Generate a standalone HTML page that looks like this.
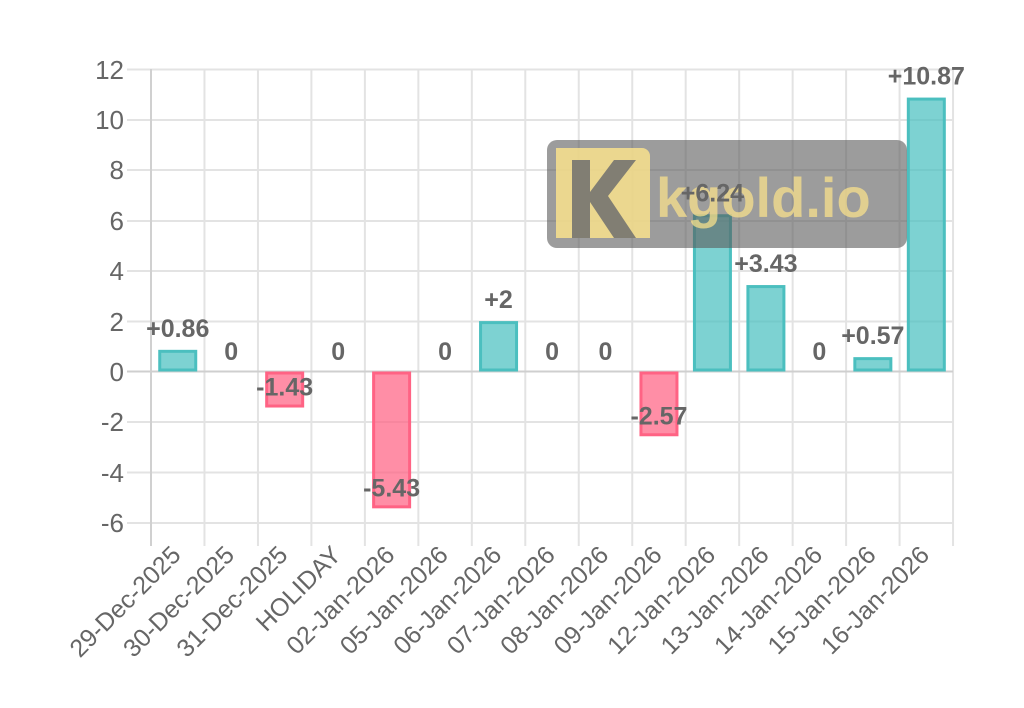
<!DOCTYPE html>
<html><head><meta charset="utf-8"><style>html,body{margin:0;padding:0;background:#fff}svg{display:block}</style></head>
<body>
<svg width="1024" height="708" xmlns="http://www.w3.org/2000/svg" font-family="Liberation Sans, sans-serif">
<g stroke="#e3e3e3" stroke-width="2">
<line x1="127" y1="69.5" x2="953" y2="69.5"/><line x1="127" y1="120" x2="953" y2="120"/><line x1="127" y1="170" x2="953" y2="170"/><line x1="127" y1="221" x2="953" y2="221"/><line x1="127" y1="271" x2="953" y2="271"/><line x1="127" y1="321.5" x2="953" y2="321.5"/><line x1="127" y1="422" x2="953" y2="422"/><line x1="127" y1="472.5" x2="953" y2="472.5"/><line x1="127" y1="523" x2="953" y2="523"/>
</g>
<g stroke="#e3e3e3" stroke-width="2" id="vg"></g>
<line x1="127" y1="371.5" x2="953" y2="371.5" stroke="#cfcfcf" stroke-width="2"/>
<line x1="151" y1="69" x2="151" y2="546" stroke="#d0d0d0" stroke-width="2"/>
<g font-size="26" fill="#666" text-anchor="end">
<text x="124" y="79">12</text><text x="124" y="129">10</text><text x="124" y="179">8</text><text x="124" y="230">6</text><text x="124" y="280">4</text><text x="124" y="331">2</text><text x="124" y="381">0</text><text x="124" y="431">-2</text><text x="124" y="482">-4</text><text x="124" y="532">-6</text>
</g>
<g id="bars"></g>
<rect x="547" y="140" width="360" height="108" rx="10" fill="rgba(90,90,90,0.6)"/>
<path d="M556 148 h86 a8 8 0 0 1 8 8 v82 h-94 z" fill="rgba(255,230,140,0.8)"/>
<path d="M572 160 h18 v32 l24-32 h22 l-28 36 l28 42 h-22 l-24-36 v36 h-18 z" fill="rgba(110,110,110,0.85)"/>
<text x="656" y="217" font-size="56" font-weight="bold" fill="rgba(255,230,140,0.7)">kgold.io</text>
<g id="lbl" font-size="25" font-weight="bold" fill="#666" text-anchor="middle"></g>
<g id="xl" font-size="25" fill="#666" text-anchor="end"></g>
</svg>
<script>
var v=[0.86,0,-1.43,0,-5.43,0,2,0,0,-2.57,6.24,3.43,0,0.57,10.87];
var n=["29-Dec-2025","30-Dec-2025","31-Dec-2025","HOLIDAY","02-Jan-2026","05-Jan-2026","06-Jan-2026","07-Jan-2026","08-Jan-2026","09-Jan-2026","12-Jan-2026","13-Jan-2026","14-Jan-2026","15-Jan-2026","16-Jan-2026"];
var ns="http://www.w3.org/2000/svg",w=53.47;
function el(t,a,p,tx){var e=document.createElementNS(ns,t);for(var k in a)e.setAttribute(k,a[k]);if(tx!=null)e.textContent=tx;document.getElementById(p).appendChild(e);}
for(var i=1;i<=15;i++){var gx=151+w*i;el("line",{x1:gx,y1:69,x2:gx,y2:546},"vg");}
for(var i=0;i<15;i++){var cx=151+w*(i+0.5),yy=371.5-25.2*v[i];
if(v[i]!=0){var pos=v[i]>0,bt=Math.min(yy,371.5),bh=Math.abs(yy-371.5);
el("rect",{x:cx-18,y:bt+1.5,width:36,height:Math.max(bh-3,0),fill:pos?"rgba(75,192,192,0.72)":"rgba(255,99,132,0.72)",stroke:pos?"#4bbfbf":"#ff6384","stroke-width":3},"bars");}
var s=v[i]>0?"+"+v[i]:""+v[i];var ly=v[i]>0?yy-13:(v[i]<0?yy-12:360);
el("text",{x:cx,y:ly},"lbl",s);
el("text",{x:cx-8,y:544,"dominant-baseline":"hanging",transform:"rotate(-45 "+(cx-8)+" 544)"},"xl",n[i]);}
</script>
</body></html>
